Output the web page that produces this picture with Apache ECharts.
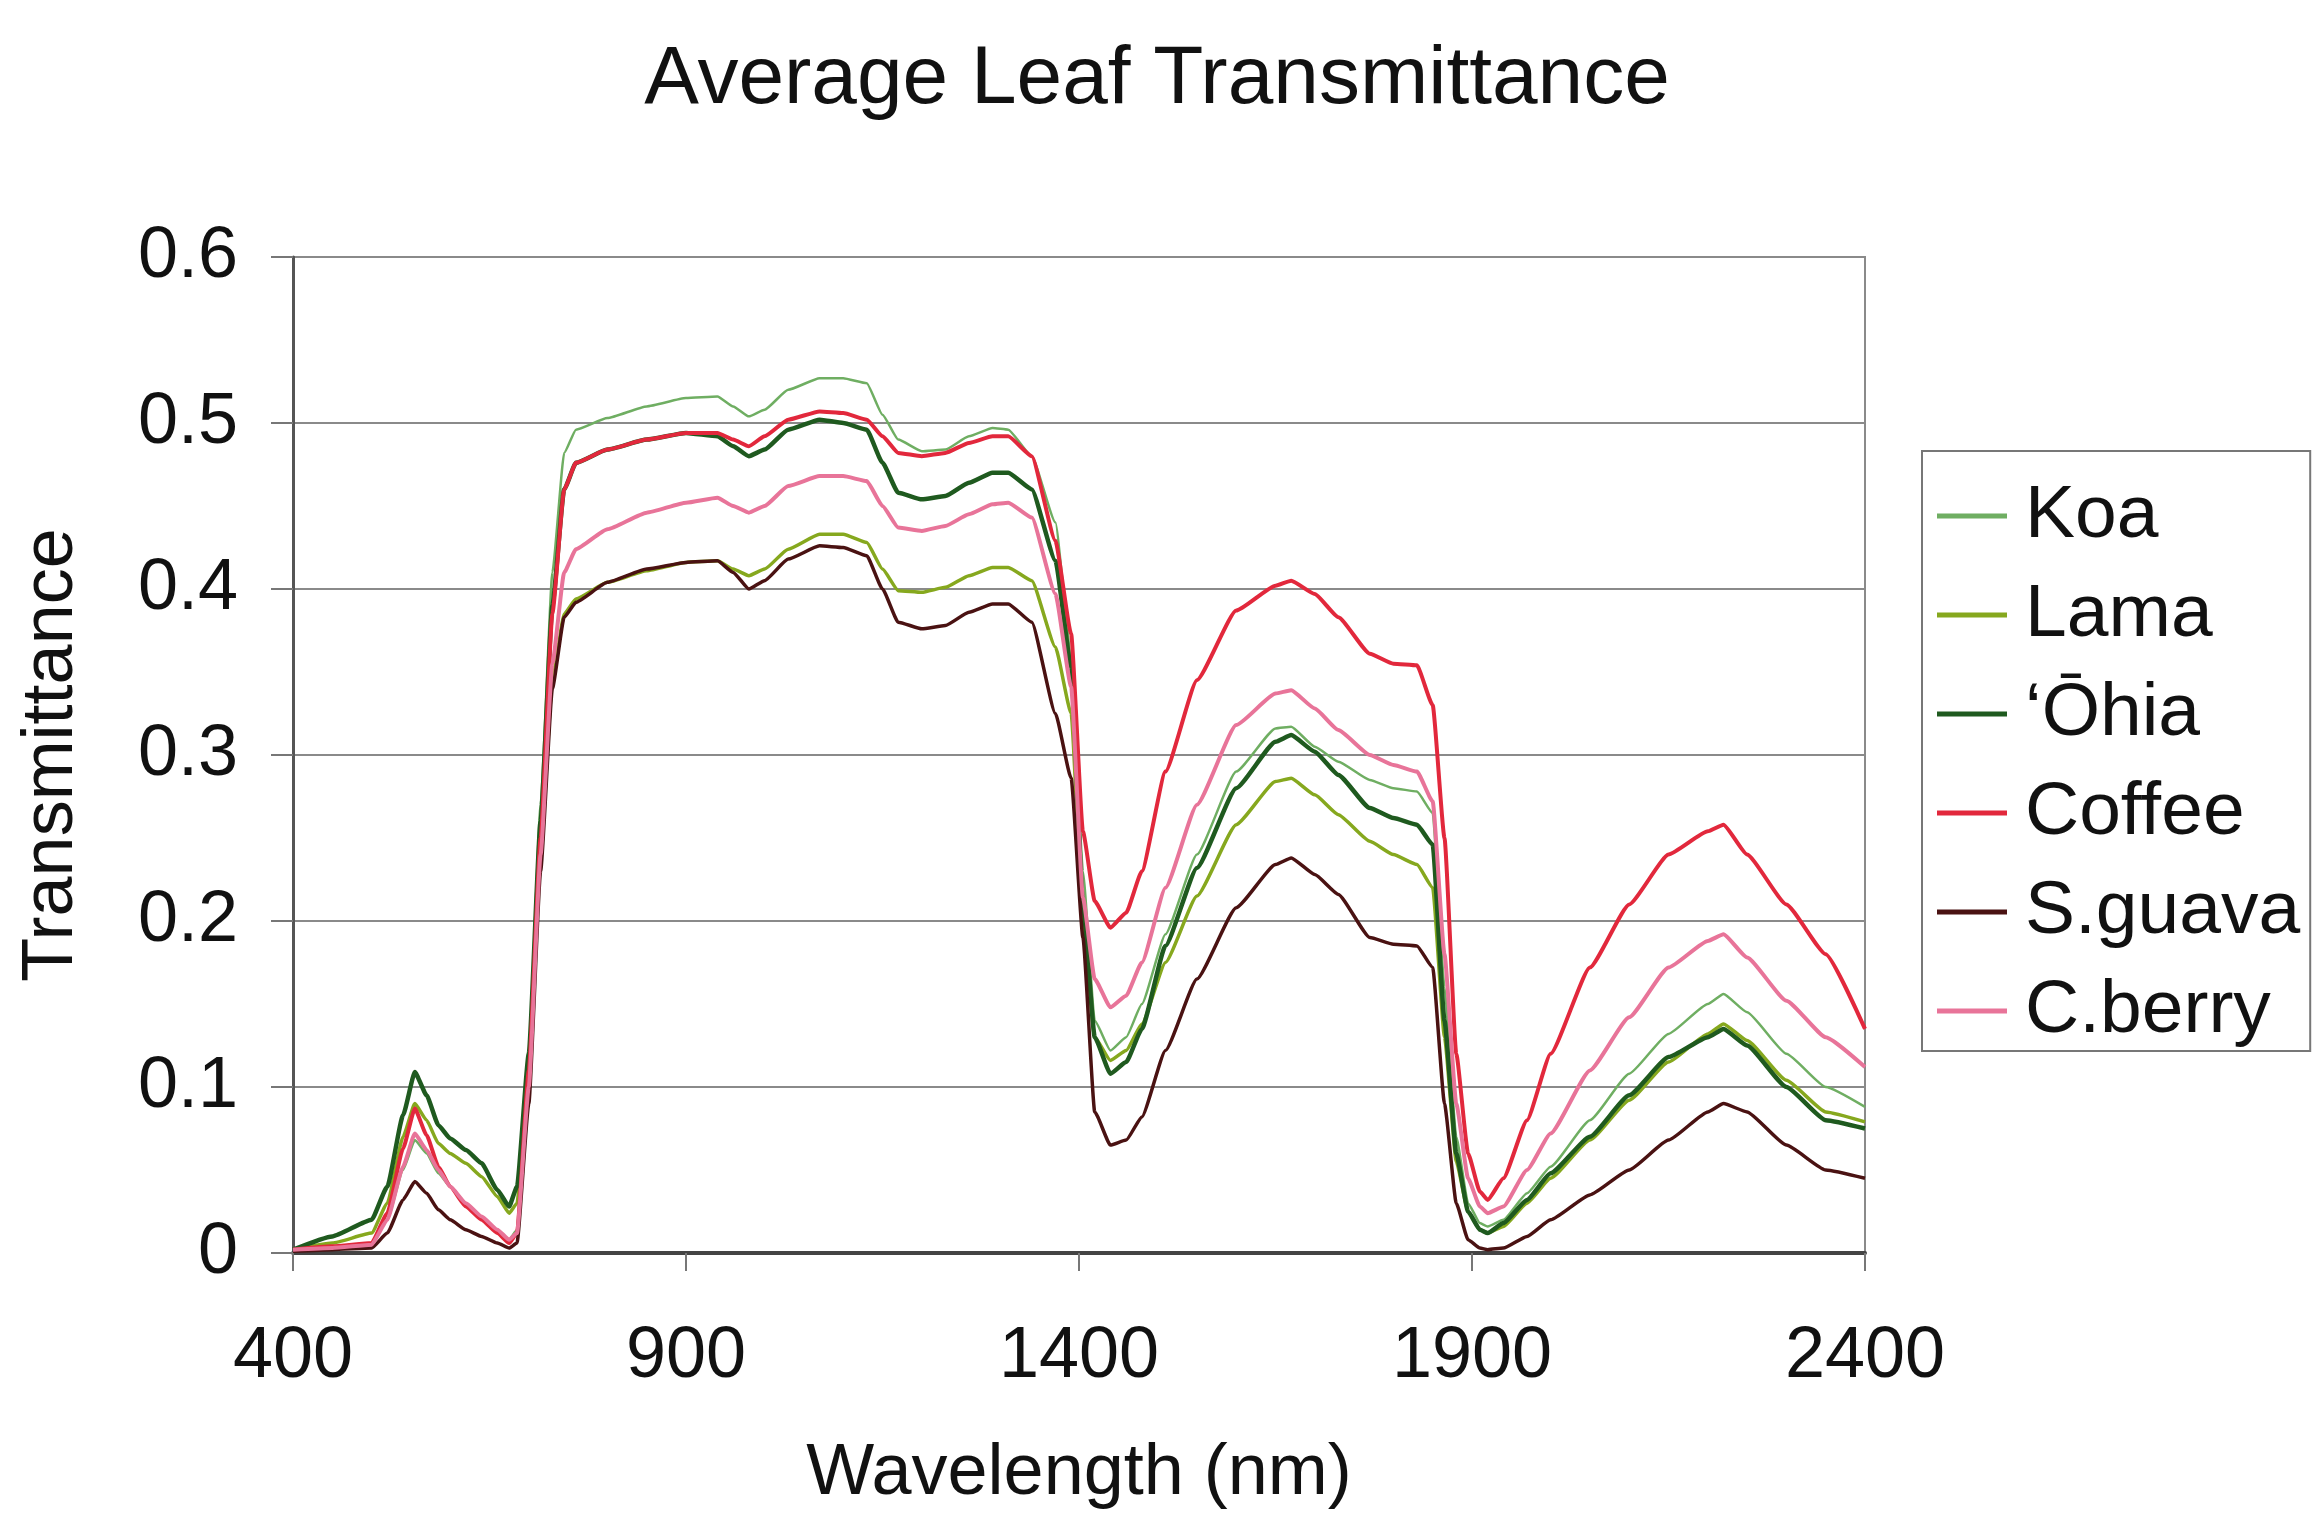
<!DOCTYPE html>
<html>
<head>
<meta charset="utf-8">
<script src="https://cdn.jsdelivr.net/npm/echarts@6/dist/echarts.min.js"></script>
<style>
html,body{margin:0;padding:0;background:#fff;}
#chart{width:2314px;height:1522px;}
</style>
</head>
<body>
<div id="chart"></div>
<script>
const wavelength = [400,450,500,520,540,555,570,585,600,620,640,660,675,685,700,715,730,745,760,800,850,900,940,960,980,1000,1030,1070,1100,1130,1150,1170,1200,1230,1260,1290,1310,1340,1370,1390,1405,1420,1440,1460,1480,1510,1550,1600,1650,1670,1700,1730,1770,1800,1830,1850,1865,1880,1895,1910,1920,1940,1970,2000,2050,2100,2150,2200,2220,2250,2300,2350,2400];

const koa = [0.002,0.004,0.006,0.02,0.05,0.068,0.06,0.048,0.04,0.03,
  0.022,0.014,0.008,0.014,0.12,0.27,0.41,0.482,0.496,0.503,
  0.51,0.515,0.516,0.51,0.504,0.508,0.52,0.527,0.527,0.524,
  0.505,0.49,0.483,0.484,0.492,0.497,0.496,0.48,0.44,0.36,
  0.23,0.14,0.122,0.13,0.15,0.192,0.24,0.29,0.316,0.317,
  0.305,0.296,0.285,0.28,0.278,0.265,0.16,0.07,0.03,0.018,
  0.016,0.02,0.036,0.052,0.08,0.108,0.132,0.15,0.156,0.145,
  0.12,0.1,0.088];

const lama = [0.002,0.006,0.012,0.03,0.07,0.09,0.08,0.066,0.06,0.054,
  0.046,0.034,0.024,0.03,0.11,0.24,0.345,0.385,0.394,0.404,
  0.411,0.416,0.417,0.412,0.408,0.412,0.424,0.433,0.433,0.428,
  0.412,0.399,0.398,0.401,0.408,0.413,0.413,0.405,0.365,0.325,
  0.2,0.13,0.116,0.122,0.138,0.175,0.215,0.258,0.284,0.286,
  0.276,0.264,0.248,0.24,0.234,0.22,0.13,0.055,0.025,0.014,
  0.012,0.016,0.03,0.045,0.068,0.092,0.115,0.132,0.138,0.128,
  0.104,0.085,0.079];

const ohia = [0.002,0.01,0.02,0.04,0.083,0.109,0.095,0.077,0.069,0.062,
  0.054,0.038,0.028,0.04,0.12,0.26,0.39,0.46,0.476,0.484,
  0.49,0.494,0.492,0.486,0.48,0.484,0.496,0.502,0.5,0.496,
  0.476,0.458,0.454,0.456,0.464,0.47,0.47,0.46,0.417,0.353,
  0.21,0.13,0.108,0.115,0.135,0.185,0.232,0.28,0.308,0.312,
  0.302,0.288,0.268,0.262,0.258,0.246,0.14,0.06,0.025,0.014,
  0.012,0.018,0.032,0.048,0.07,0.095,0.118,0.13,0.135,0.125,
  0.1,0.08,0.075];

const coffee = [0.002,0.004,0.006,0.024,0.063,0.087,0.071,0.052,0.04,0.028,
  0.02,0.012,0.006,0.012,0.11,0.25,0.385,0.46,0.476,0.484,
  0.49,0.494,0.494,0.49,0.486,0.492,0.502,0.507,0.506,0.502,
  0.492,0.482,0.48,0.482,0.488,0.492,0.492,0.48,0.429,0.373,
  0.254,0.212,0.196,0.205,0.23,0.29,0.345,0.387,0.402,0.405,
  0.397,0.383,0.361,0.355,0.354,0.33,0.25,0.12,0.06,0.037,
  0.032,0.045,0.08,0.12,0.172,0.21,0.24,0.254,0.258,0.24,
  0.21,0.18,0.135];

const sguava = [0.001,0.002,0.003,0.012,0.032,0.043,0.036,0.026,0.02,0.014,
  0.01,0.006,0.003,0.006,0.09,0.23,0.34,0.383,0.392,0.404,
  0.412,0.416,0.417,0.41,0.4,0.405,0.418,0.426,0.425,0.42,
  0.4,0.38,0.376,0.378,0.386,0.391,0.391,0.38,0.325,0.286,
  0.19,0.085,0.065,0.068,0.082,0.122,0.165,0.208,0.234,0.238,
  0.228,0.216,0.19,0.186,0.185,0.172,0.09,0.03,0.008,0.003,
  0.002,0.003,0.01,0.02,0.035,0.05,0.068,0.085,0.09,0.085,
  0.065,0.05,0.045];

const cberry = [0.002,0.003,0.005,0.02,0.052,0.072,0.062,0.05,0.04,0.03,
  0.022,0.014,0.008,0.012,0.1,0.24,0.355,0.41,0.424,0.436,
  0.446,0.452,0.455,0.45,0.446,0.45,0.462,0.468,0.468,0.465,
  0.45,0.437,0.435,0.438,0.445,0.451,0.452,0.443,0.397,0.341,
  0.214,0.165,0.148,0.155,0.175,0.22,0.27,0.318,0.337,0.339,
  0.328,0.315,0.3,0.294,0.29,0.272,0.18,0.09,0.045,0.028,
  0.024,0.028,0.05,0.072,0.11,0.142,0.172,0.188,0.192,0.178,
  0.152,0.13,0.112];

const seriesNames = ['Koa','Lama','\u2018\u014Chia','Coffee','S.guava','C.berry'];
const seriesValues = [koa, lama, ohia, coffee, sguava, cberry];
const xTickValues = [400, 900, 1400, 1900, 2400];

const colors = ['#6fae62','#86a81e','#1f5a1f','#e2283c','#4a1212','#e87499'];
const widths = [2.5, 3.5, 4.5, 4, 3.5, 4];

const font = 'Liberation Sans, Arial, sans-serif';

const series = seriesNames.map((name, i) => ({
  name: name,
  type: 'line',
  showSymbol: false,
  symbol: 'none',
  smooth: 0.15,
  smoothMonotone: 'x',
  data: wavelength.map((w, j) => [w, seriesValues[i][j]]),
  lineStyle: { color: colors[i], width: widths[i] },
  itemStyle: { color: colors[i] },
  emphasis: { disabled: true }
}));

const chart = echarts.init(document.getElementById('chart'));
chart.setOption({
  animation: false,
  backgroundColor: '#ffffff',
  title: {
    text: 'Average Leaf Transmittance',
    left: 'center',
    top: 34,
    textStyle: { fontFamily: font, fontSize: 82, fontWeight: 'normal', color: '#111' }
  },
  legend: {
    orient: 'vertical',
    left: 1922,
    top: 451,
    padding: [25, 10, 0, 15],
    itemGap: 19,
    itemWidth: 70,
    itemHeight: 5,
    icon: 'rect',
    borderColor: '#777',
    borderWidth: 2,
    backgroundColor: '#fff',
    data: seriesNames,
    textStyle: { fontFamily: font, fontSize: 75, color: '#111', lineHeight: 80, padding: [0, 0, 0, 13] }
  },
  grid: {
    left: 293,
    right: 449,
    top: 257,
    bottom: 269,
    show: true,
    borderColor: '#8a8a8a',
    borderWidth: 2,
    containLabel: false
  },
  xAxis: {
    type: 'value',
    min: 400,
    max: 2400,
    name: 'Wavelength (nm)',
    nameLocation: 'middle',
    nameGap: 185,
    nameTextStyle: { fontFamily: font, fontSize: 72, color: '#111' },
    axisLine: { show: true, lineStyle: { color: '#444', width: 4 } },
    axisTick: { show: true, customValues: xTickValues, length: 18, lineStyle: { color: '#777', width: 2 } },
    axisLabel: { customValues: xTickValues, formatter: (v) => String(v), fontFamily: font, fontSize: 72, color: '#111', margin: 68 },
    splitLine: { show: false }
  },
  yAxis: {
    type: 'value',
    min: 0,
    max: 0.6,
    interval: 0.1,
    name: 'Transmittance',
    nameLocation: 'middle',
    nameGap: 205,
    nameTextStyle: { fontFamily: font, fontSize: 72, color: '#111' },
    axisLine: { show: true, lineStyle: { color: '#555', width: 3 } },
    axisTick: { show: true, length: 22, lineStyle: { color: '#777', width: 2 } },
    axisLabel: { fontFamily: font, fontSize: 72, color: '#111', margin: 55 },
    splitLine: { show: true, lineStyle: { color: '#8a8a8a', width: 2 } }
  },
  series: series
});
</script>
</body>
</html>
